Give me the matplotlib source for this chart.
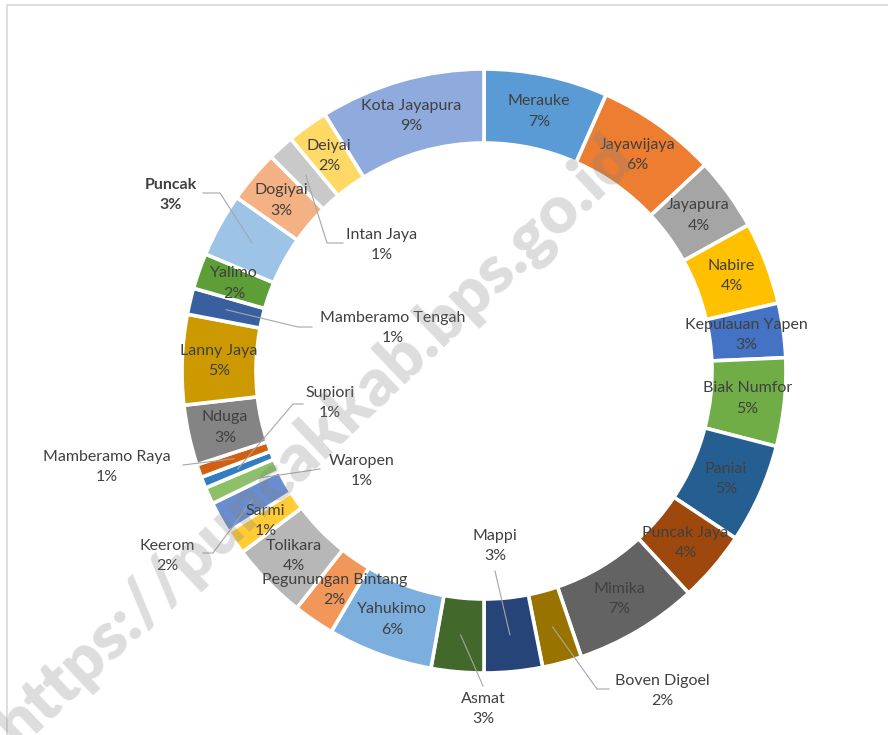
import numpy as np
import matplotlib
matplotlib.use("Agg")
import matplotlib.pyplot as plt

# ---------------- data ----------------
regencies = ["Merauke", "Jayawijaya", "Jayapura", "Nabire", "Kepulauan Yapen",
             "Biak Numfor", "Paniai", "Puncak Jaya", "Mimika", "Boven Digoel",
             "Mappi", "Asmat", "Yahukimo", "Pegunungan Bintang", "Tolikara",
             "Sarmi", "Keerom", "Waropen", "Supiori", "Mamberamo Raya",
             "Nduga", "Lanny Jaya", "Mamberamo Tengah", "Yalimo", "Puncak",
             "Dogiyai", "Intan Jaya", "Deiyai", "Kota Jayapura"]
shares = [6.6, 6.4, 3.9, 4.4, 2.9,
          4.7, 5.3, 3.8, 6.6, 2.1,
          3.1, 2.8, 5.6, 2.2, 4.1,
          1.3, 1.7, 0.9, 0.6, 0.7,
          3.2, 4.8, 1.4, 1.9, 3.4,
          2.8, 1.4, 2.2, 8.8]
colors = ["#5B9BD5", "#ED7D31", "#A5A5A5", "#FFC000", "#4472C4",
          "#70AD47", "#255E91", "#9E480E", "#636363", "#997300",
          "#264478", "#43682B", "#7CAFDD", "#F1975A", "#B7B7B7",
          "#FFCD33", "#698ED0", "#8CC168", "#327DC2", "#D26012",
          "#848484", "#CC9A00", "#3A5FA0", "#5E9E37", "#9DC3E6",
          "#F4B183", "#C9C9C9", "#FFD966", "#8FAADC"]
watermark = "https://puncakkab.bps.go.id"

# ---------------- layout (pixels, y from top) ----------------
W, H = 888, 735
CX, CY, R = 484, 371, 302
RING = 0.245
# outside labels: text-block centre, elbow point, line end near text
outside = {
    "Boven Digoel":     ((662, 691), (597, 689), (609, 689)),
    "Mappi":            ((495, 546), (495, 571), (495, 571)),
    "Asmat":            ((483, 709), (483, 686), (483, 686)),
    "Keerom":           ((167, 556), (213, 553), (203, 553)),
    "Mamberamo Raya":   ((107, 467), (183, 465), (183, 465)),
    "Supiori":          ((330, 403), (293, 404), (303, 404)),
    "Waropen":          ((362, 471), (320, 469), (320, 469)),
    "Mamberamo Tengah": ((393, 328), (298, 327), (312, 327)),
    "Intan Jaya":       ((382, 245), (327, 243), (343, 243)),
    "Puncak":           ((171, 195), (220, 193), (203, 193)),
}
bold_labels = {"Puncak"}

TEXT_C = "#404040"
LINE_C = "#A6A6A6"
FONT = ["Lato", "DejaVu Sans"]
FS = 11.5


def P(x, y):
    return x, H - y


fig = plt.figure(figsize=(W / 100, H / 100), dpi=100)
ax = fig.add_axes([0, 0, 1, 1])
ax.axis("off")

wedges, _ = ax.pie(shares, colors=colors, startangle=90, counterclock=False,
                   center=P(CX, CY), radius=R,
                   wedgeprops=dict(width=RING * R, edgecolor="white",
                                   linewidth=2.6))
ax.set_aspect("auto")
ax.set_xlim(0, W)
ax.set_ylim(0, H)

total = sum(shares)
rmid = R * (1 - RING / 2)
for w, name, v in zip(wedges, regencies, shares):
    ang = np.deg2rad((w.theta1 + w.theta2) / 2)
    ax_x = CX + rmid * np.cos(ang)
    ax_y = (H - CY) + rmid * np.sin(ang)
    label = f"{name}\n{v / total * 100:.0f}%"
    weight = "bold" if name in bold_labels else "normal"
    if name in outside:
        (tx, ty), (ex, ey), (lx, ly) = outside[name]
        xs = [ax_x, P(ex, ey)[0], P(lx, ly)[0]]
        ys = [ax_y, P(ex, ey)[1], P(lx, ly)[1]]
        ax.plot(xs, ys, color=LINE_C, lw=0.8, zorder=3)
        tx, ty = P(tx, ty)
    else:
        tx, ty = ax_x, ax_y
    ax.text(tx, ty, label, ha="center", va="center", fontsize=FS,
            family=FONT, color=TEXT_C, weight=weight, linespacing=1.6,
            zorder=4)

# chart-area border (left and top edges visible)
ax.plot([7, 7, W + 5], [-5, H - 5, H - 5], color="#D9D9D9", lw=1.2,
        zorder=1, clip_on=False)

# watermark (cut by the image edge, as in the source)
ax.text(*P(314, 441), watermark, rotation=43.5, ha="center", va="center",
        fontsize=48, weight="heavy", family=FONT, color="#808080",
        alpha=0.27, zorder=5, clip_on=True)

fig.savefig("out.png", dpi=100)
